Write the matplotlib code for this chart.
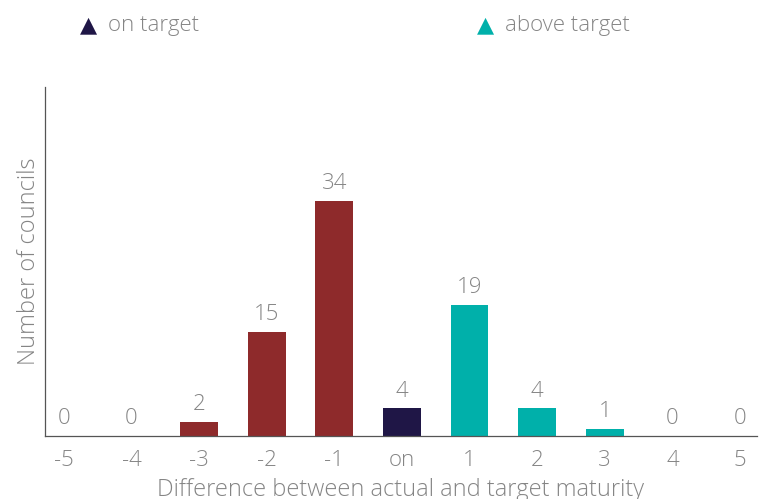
import matplotlib.pyplot as plt

categories = ['-5', '-4', '-3', '-2', '-1', 'on', '1', '2', '3', '4', '5']
counts = [0, 0, 2, 15, 34, 4, 19, 4, 1, 0, 0]
groups = ['below', 'below', 'below', 'below', 'below', 'on',
          'above', 'above', 'above', 'above', 'above']
group_colours = {'below': '#8e2a2b', 'on': '#1f1646', 'above': '#00b0aa'}

plt.rcParams['font.family'] = ['Open Sans', 'DejaVu Sans']
text_grey = '#858585'
fw = 'light'

fig = plt.figure(figsize=(7.6, 4.99), dpi=100)
ax = fig.add_axes([0.059, 0.126, 0.937, 0.7])

xs = range(len(categories))
colours = [group_colours[g] for g in groups]
ax.bar(xs, counts, width=0.56, color=colours)

for x, c in zip(xs, counts):
    ax.text(x, c + 1.0, str(c), ha='center', va='bottom',
            fontsize=16, color=text_grey, fontweight=fw)

ax.set_xlim(-0.28, 10.25)
ax.set_ylim(0, 50.5)
ax.set_xticks(list(xs))
ax.set_xticklabels(categories, fontsize=16, color=text_grey, fontweight=fw)
ax.set_yticks([])
ax.tick_params(axis='x', length=0, pad=10)

for side in ['top', 'right']:
    ax.spines[side].set_visible(False)
for side in ['left', 'bottom']:
    ax.spines[side].set_color('#555555')
    ax.spines[side].set_linewidth(0.9)

ax.set_ylabel('Number of councils', fontsize=17, color=text_grey,
              fontweight=fw, labelpad=3)
ax.set_xlabel('Difference between actual and target maturity', fontsize=17,
              color=text_grey, fontweight=fw, labelpad=5)

# legend drawn by hand at the top
legend_items = [('on target', group_colours['on'], 88),
                ('above target', group_colours['above'], 485)]
for label, col, px in legend_items:
    fig.text(px / 760, 1 - 25 / 499, '\u25b2', color=col, fontsize=16,
             ha='center', va='center', family='DejaVu Sans')
    fig.text((px + 20) / 760, 1 - 26 / 499, label, color=text_grey,
             fontsize=16, ha='left', va='center', fontweight=fw)

fig.savefig('out.png', dpi=100)
